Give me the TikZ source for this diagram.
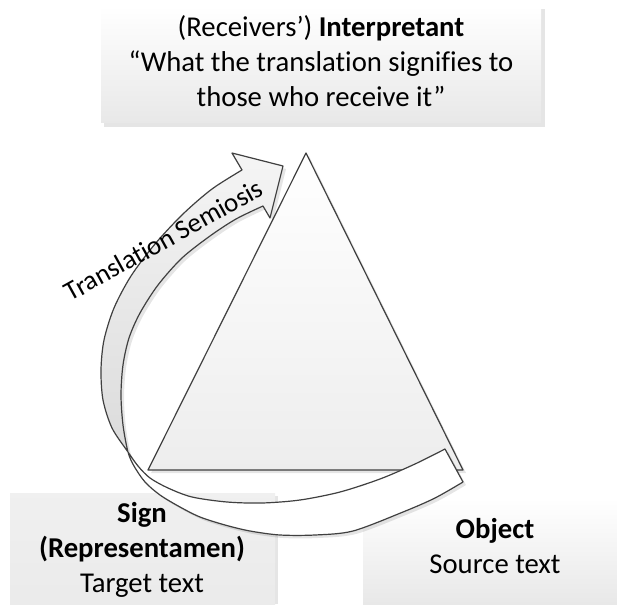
\documentclass[tikz,border=0pt]{standalone}
\usepackage{fontspec}
\setmainfont{Carlito}[Ligatures=NoCommon]
\begin{document}
\begin{tikzpicture}[x=1pt,y=-1pt,
  txt/.style={font=\fontsize{28.7}{35}\selectfont, inner sep=0pt, anchor=base},
  edgeline/.style={draw=black!75, line width=1.2pt, line join=round},
  shadowfill/.style={fill=black, opacity=0.10}]
\useasboundingbox (0,0) rectangle (617,604);
\fill[white] (0,0) rectangle (617,604);
% ---------- top box ----------
\fill[shadowfill] (104,9) rectangle (545,127);
\shade[top color=white, bottom color=black!9] (101,6) rectangle (541,123);
\node[txt] (interp1) at (321,37) {(Receivers’) \textbf{Interpretant}};
\node[txt] (interp2) at (321,72) {“What the translation signifies to};
\node[txt] (interp3) at (321,107) {those who receive it”};
% ---------- bottom boxes ----------
\fill[shadowfill] (13,496) rectangle (278,604);
\shade[top color=black!6, bottom color=black!8] (10,493) rectangle (275,604);
\shade[top color=white, bottom color=black!9] (363,498) rectangle (617,604);
\node[txt] (sign) at (142,522) {\textbf{Sign}};
\node[txt] (repr) at (142,557) {\textbf{(Representamen)}};
\node[txt] (target) at (142,592) {Target text};
\node[txt] (object) at (495,538) {\textbf{Object}};
\node[txt] (source) at (495,573) {Source text};
% ---------- triangle ----------
\coordinate (apex) at (306,153);
\coordinate (bl) at (148,470);
\coordinate (br) at (463,470);
\fill[shadowfill] ([shift={(3,3)}]apex) -- ([shift={(3,3)}]br) -- ([shift={(3,3)}]bl) -- cycle;
\path[edgeline, top color=white, bottom color=black!7] (apex) -- (br) -- (bl) -- cycle;
% ---------- arrow ----------
\def\arrowpath{plot[smooth] coordinates {(242,170) (212,189) (183,214) (155,244) (131,276) (114,308) (104,340) (101,370) (103,400) (112,428) (128,452) (138,466) (150,478) (168,488) (192,497) (227,502) (262,503) (300,500) (340,492) (380,479) (415,464) (445,449)}
  -- plot[smooth] coordinates {(463,482) (435,498) (403,512) (353,531) (315,535) (280,535) (250,531) (225,525) (200,517) (180,507) (160,495) (145,482) (134,466) (128,452) (123,425) (121,395) (123,365) (129,338) (140,313) (158,285) (182,258) (210,236) (236,219) (263,206)}
  -- (270,218) -- (283,166) -- (232,153) -- cycle}
\begin{scope}[shift={(3,3)}]
\fill[shadowfill] \arrowpath;
\end{scope}
\fill[white] \arrowpath;
\shade[top color=black!4, bottom color=black!14]
  plot[smooth] coordinates {(242,170) (212,189) (183,214) (155,244) (131,276) (114,308) (104,340) (101,370) (103,400) (112,428) (128,452)}
  -- plot[smooth] coordinates {(128,452) (123,425) (121,395) (123,365) (129,338) (140,313) (158,285) (182,258) (210,236) (236,219) (263,206)}
  -- (270,218) -- (283,166) -- (232,153) -- cycle;
\path[edgeline] \arrowpath;
\node[font=\fontsize{27}{32}\selectfont, inner sep=0pt, anchor=base, rotate=29] (semiosis) at (168,248) {Translation Semiosis};
\end{tikzpicture}
\end{document}
